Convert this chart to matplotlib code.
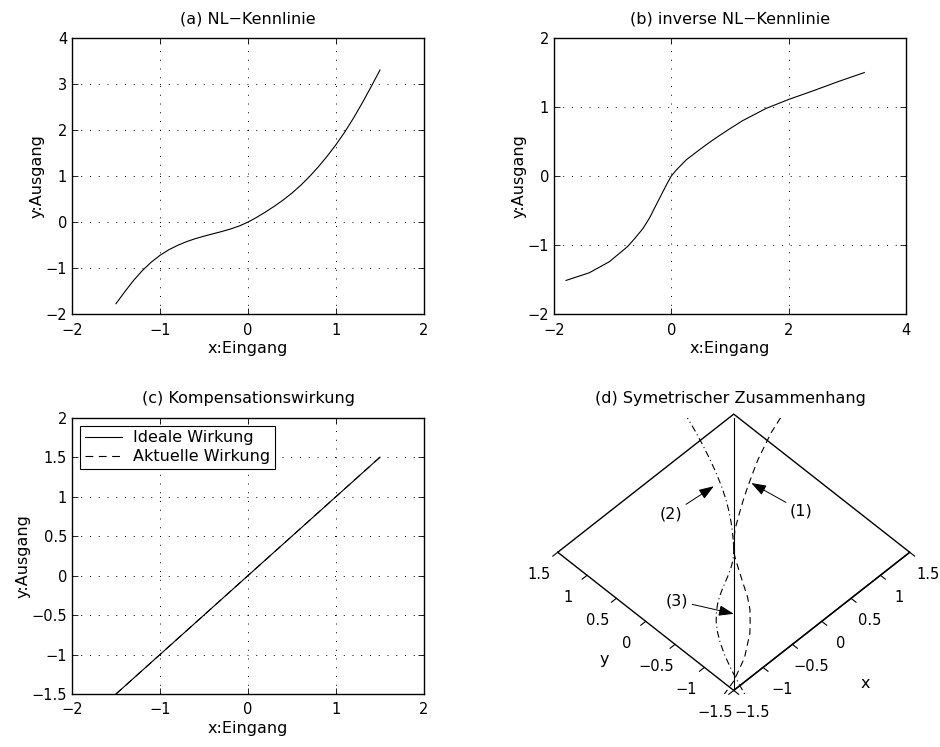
import numpy as np
import matplotlib
matplotlib.use("Agg")
import matplotlib.pyplot as plt
from matplotlib.ticker import FuncFormatter

plt.rcParams['font.family'] = ['DejaVu Sans']
plt.rcParams['font.size'] = 10.5
plt.rcParams['axes.unicode_minus'] = True

# ---------------- data ----------------
# (a) NL-Kennlinie
nl_x = [-1.5, -1.4, -1.3, -1.2, -1.1, -1.0, -0.9, -0.8, -0.7, -0.6, -0.5,
        -0.4, -0.3, -0.2, -0.1, 0.0, 0.1, 0.2, 0.3, 0.4, 0.5, 0.6, 0.7,
        0.8, 0.9, 1.0, 1.1, 1.2, 1.3, 1.4, 1.5]
nl_y = [-1.77, -1.51, -1.265, -1.05, -0.87, -0.72, -0.60, -0.505, -0.425,
        -0.36, -0.305, -0.255, -0.205, -0.15, -0.085, 0.0, 0.105, 0.22, 0.345,
        0.48, 0.63, 0.80, 0.99, 1.20, 1.43, 1.68, 1.955, 2.26, 2.59, 2.94, 3.30]

# (b) inverse NL-Kennlinie
inv_x = [-1.795, -1.40, -1.057, -0.745, -0.62, -0.484, -0.37, -0.26, -0.143,
         -0.06, 0.0, 0.085, 0.256, 0.48, 0.64, 0.82, 1.0, 1.215, 1.614, 2.0,
         2.41, 2.86, 3.29]
inv_y = [-1.51, -1.40, -1.24, -1.02, -0.90, -0.76, -0.605, -0.42, -0.226,
         -0.09, 0.0, 0.087, 0.235, 0.38, 0.48, 0.585, 0.685, 0.80, 0.977,
         1.107, 1.23, 1.37, 1.496]

# (c) Kompensationswirkung
ideal_x = [-1.5, -1.0, -0.5, 0.0, 0.5, 1.0, 1.5]
ideal_y = [-1.5, -1.0, -0.5, 0.0, 0.5, 1.0, 1.5]
actual_x = [-1.5, -1.0, -0.5, 0.0, 0.5, 1.0, 1.5]
actual_y = [-1.5, -1.0, -0.5, 0.0, 0.5, 1.0, 1.5]

titles = ['(a) NL\u2212Kennlinie', '(b) inverse NL\u2212Kennlinie',
          '(c) Kompensationswirkung', '(d) Symetrischer Zusammenhang']
legend_labels = ['Ideale Wirkung', 'Aktuelle Wirkung']
d_ticks = [-1.5, -1.0, -0.5, 0.0, 0.5, 1.0, 1.5]

# ---------------- layout ----------------
W, H = 940, 747
fig = plt.figure(figsize=(W / 100, H / 100), dpi=100)


def rect(l, t, r, b):
    return [l / W, 1 - b / H, (r - l) / W, (b - t) / H]


ra = rect(72, 37.7, 424, 314.3)
rb = rect(554, 37.7, 906, 314.3)
rc = rect(72, 417.7, 424, 694)
rd = rect(554, 417.7, 906, 694)

fmt = FuncFormatter(lambda v, p: ('%g' % v).replace('-', '\u2212'))
TICK_FS = 10.5
LABEL_FS = 11.5
TITLE_FS = 11.5


def style(ax):
    ax.grid(True, color='k', linestyle=(0, (1, 8)), linewidth=0.7)
    ax.set_axisbelow(True)
    ax.tick_params(direction='in', top=True, right=True, length=4,
                   width=0.6, labelsize=TICK_FS)
    ax.tick_params(axis='x', pad=6)
    ax.tick_params(axis='y', pad=3.5)
    for s in ax.spines.values():
        s.set_linewidth(1.0)
    ax.xaxis.set_major_formatter(fmt)
    ax.yaxis.set_major_formatter(fmt)
    ax.set_xlabel('x:Eingang', labelpad=2.5, fontsize=LABEL_FS)
    ax.set_ylabel('y:Ausgang', labelpad=1, fontsize=LABEL_FS)


lw = 0.8

# (a)
axa = fig.add_axes(ra)
axa.plot(nl_x, nl_y, color='k', lw=lw)
axa.set_xlim(-2, 2)
axa.set_ylim(-2, 4)
axa.set_xticks([-2, -1, 0, 1, 2])
axa.set_yticks([-2, -1, 0, 1, 2, 3, 4])
style(axa)
axa.set_title(titles[0], pad=10.5, fontsize=TITLE_FS)

# (b)
axb = fig.add_axes(rb)
axb.plot(inv_x, inv_y, color='k', lw=lw)
axb.set_xlim(-2, 4)
axb.set_ylim(-2, 2)
axb.set_xticks([-2, 0, 2, 4])
axb.set_yticks([-2, -1, 0, 1, 2])
style(axb)
axb.set_title(titles[1], pad=10.5, fontsize=TITLE_FS)

# (c)
axc = fig.add_axes(rc)
axc.plot(ideal_x, ideal_y, color='k', lw=lw, label=legend_labels[0])
axc.plot(actual_x, actual_y, color='k', lw=lw, linestyle=(0, (7, 5)),
         label=legend_labels[1])
axc.set_xlim(-2, 2)
axc.set_ylim(-1.5, 2)
axc.set_xticks([-2, -1, 0, 1, 2])
axc.set_yticks([-1.5, -1, -0.5, 0, 0.5, 1, 1.5, 2])
style(axc)
axc.set_title(titles[2], pad=10.5, fontsize=TITLE_FS)
leg = axc.legend(loc='upper left', fancybox=False, edgecolor='k',
                 framealpha=1, handlelength=2.3, borderaxespad=0.5,
                 handletextpad=0.7, borderpad=0.3, labelspacing=0.25,
                 fontsize=11.5)
leg.get_frame().set_linewidth(0.8)

# (d) 3D view
axd = fig.add_axes(rd, projection='3d', proj_type='ortho')
axd.set_xlim(-1.5, 1.5)
axd.set_ylim(-1.5, 1.5)
axd.set_zlim(-1, 1)
ELEV = np.degrees(np.arcsin((694 - 417.7) / (906 - 554)))
axd.view_init(elev=ELEV, azim=-135)
aspect = (1, 1, 0.002)
axd.set_box_aspect(aspect)

zeros_nl = np.zeros(len(nl_x))
zeros_inv = np.zeros(len(inv_x))
zeros_id = np.zeros(len(ideal_x))
axd.plot(inv_x, inv_y, zeros_inv, color='k', lw=lw, linestyle=(0, (6, 4)))
axd.plot(nl_x, nl_y, zeros_nl, color='k', lw=lw,
         linestyle=(0, (6, 3, 1, 3)))
axd.plot(ideal_x, ideal_y, zeros_id, color='k', lw=lw)

axd.grid(False)
axd.set_xticks(d_ticks)
axd.set_yticks(d_ticks)
axd.xaxis.set_major_formatter(fmt)
axd.yaxis.set_major_formatter(fmt)
axd.set_zticks([])
axd.zaxis.line.set_visible(False)
for a in (axd.xaxis, axd.yaxis, axd.zaxis):
    a.set_pane_color('white')
    a.pane.set_alpha(None)
    a.pane.set_edgecolor('white')
    a.pane.set_linewidth(0)
    a._axinfo['tick']['inward_factor'] = 0.35
    a._axinfo['tick']['outward_factor'] = 0.0
axd.zaxis.pane.set_edgecolor('k')
axd.zaxis.pane.set_linewidth(1.0)
axd.xaxis.line.set_linewidth(1.0)
axd.yaxis.line.set_linewidth(1.0)
axd.tick_params(labelsize=TICK_FS, pad=3)
axd.set_title(titles[3], pad=10.5, fontsize=TITLE_FS)

fig.canvas.draw()


def project(xs, ys, zs):
    M = axd.get_proj()
    v = M @ np.vstack([xs, ys, zs, np.ones(len(xs))])
    return v[0] / v[3], v[1] / v[3]


lim = axd.get_xlim()
cx = np.array([lim[0], lim[1], lim[1], lim[0]])
cy = np.array([lim[0], lim[0], lim[1], lim[1]])
px, py = project(cx, cy, np.full(4, axd.get_zlim()[0]))
disp = axd.transData.transform(np.column_stack([px, py]))
width_now = disp[:, 0].max() - disp[:, 0].min()
target_w = fig.transFigure.transform((rd[2], 0))[0] - fig.transFigure.transform((0, 0))[0]
axd.set_box_aspect(aspect, zoom=target_w / width_now)
fig.canvas.draw()

# axis names placed outside the front edges (projected to the 2D plane)
for name, (lx, ly) in [('x', (-0.3, -2.55)), ('y', (-2.27, -0.06))]:
    qx, qy = project(np.array([lx]), np.array([ly]), np.array([0.0]))
    axd.annotate(name, xy=(qx[0], qy[0]), xycoords='data',
                 ha='center', va='center', fontsize=LABEL_FS,
                 annotation_clip=False)

# annotations (1), (2), (3)
ann = [('(1)', (0.90, 0.60), (50, -28)),
       ('(2)', (0.545, 0.885), (-43, -28)),
       ('(3)', (-0.67, -0.67), (-57, 13))]
for txt, (ax_, ay_), off in ann:
    qx, qy = project(np.array([ax_]), np.array([ay_]), np.array([0.0]))
    axd.annotate(txt, xy=(qx[0], qy[0]), xycoords='data',
                 xytext=off, textcoords='offset pixels',
                 ha='center', va='center', fontsize=LABEL_FS,
                 arrowprops=dict(arrowstyle='-|>,head_length=0.7,head_width=0.25',
                                 color='k', lw=0.7, mutation_scale=13,
                                 shrinkA=1, shrinkB=0))

fig.savefig('out.png', dpi=100)
